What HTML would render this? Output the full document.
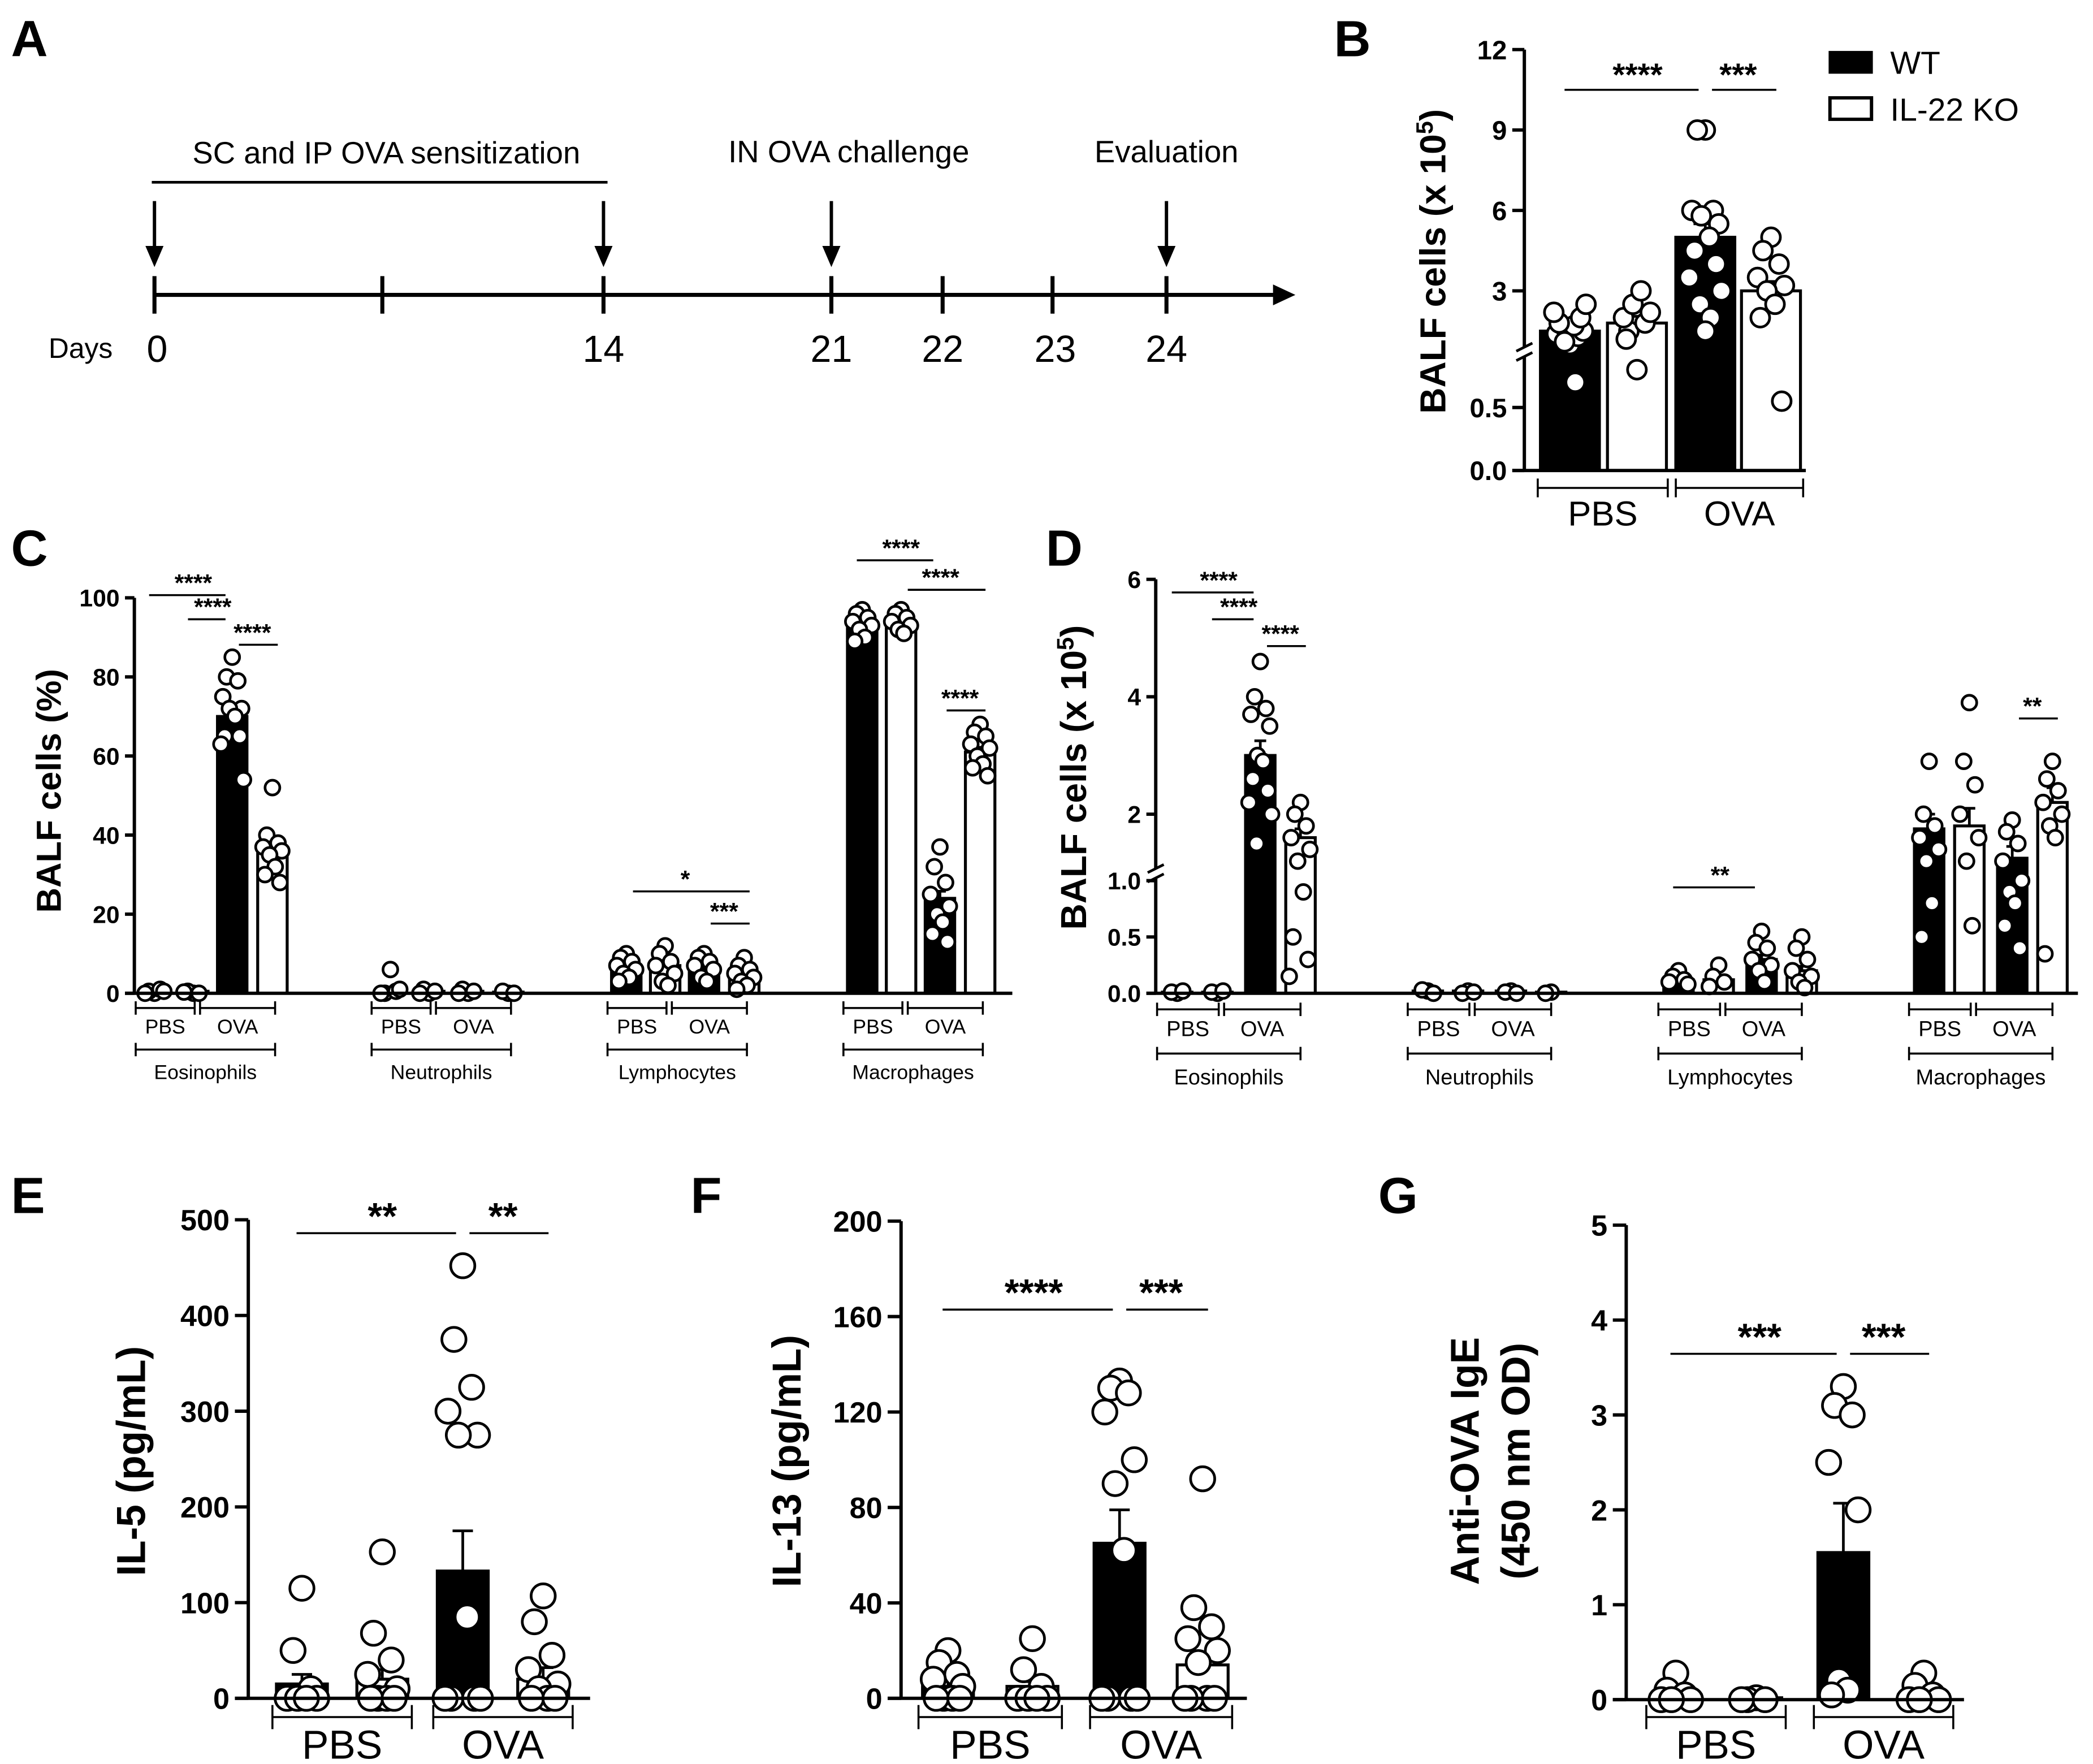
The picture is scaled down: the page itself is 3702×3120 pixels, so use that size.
<!DOCTYPE html>
<html><head><meta charset="utf-8"><style>
html,body{margin:0;padding:0;background:#fff}
svg{display:block}
text{font-family:"Liberation Sans",Arial,sans-serif;fill:#000}
</style></head><body>
<svg id="fig" xmlns="http://www.w3.org/2000/svg" width="3702" height="3120" viewBox="0 0 1561 1316">
<g stroke="#000" fill="none">
<line x1="115" y1="220" x2="955" y2="220" stroke-width="3"/>
<polygon points="965,220 950,213 950,227" fill="#000"/>
<line x1="115" y1="206" x2="115" y2="234" stroke-width="3"/>
<line x1="285" y1="206" x2="285" y2="234" stroke-width="3"/>
<line x1="450" y1="206" x2="450" y2="234" stroke-width="3"/>
<line x1="620" y1="206" x2="620" y2="234" stroke-width="3"/>
<line x1="703" y1="206" x2="703" y2="234" stroke-width="3"/>
<line x1="785" y1="206" x2="785" y2="234" stroke-width="3"/>
<line x1="870" y1="206" x2="870" y2="234" stroke-width="3"/>
<line x1="113" y1="136" x2="453" y2="136" stroke-width="2"/>
<line x1="115" y1="150" x2="115" y2="188" stroke-width="2.5"/><polygon points="109,184 121,184 115,198" fill="#000"/>
<line x1="450" y1="150" x2="450" y2="188" stroke-width="2.5"/><polygon points="444,184 456,184 450,198" fill="#000"/>
<line x1="620" y1="150" x2="620" y2="188" stroke-width="2.5"/><polygon points="614,184 626,184 620,198" fill="#000"/>
<line x1="870" y1="150" x2="870" y2="188" stroke-width="2.5"/><polygon points="864,184 876,184 870,198" fill="#000"/>
</g>
<g font-size="22">
<text x="288" y="122" text-anchor="middle" font-size="23" fill="#333">SC and IP OVA sensitization</text>
<text x="633" y="121" text-anchor="middle" font-size="23" fill="#333">IN OVA challenge</text>
<text x="870" y="121" text-anchor="middle" font-size="23" fill="#333">Evaluation</text>
<text x="36" y="267" font-size="21" fill="#333">Days</text>
<text x="117" y="270" text-anchor="middle" font-size="28" fill="#333">0</text>
<text x="450" y="270" text-anchor="middle" font-size="28" fill="#333">14</text>
<text x="620" y="270" text-anchor="middle" font-size="28" fill="#333">21</text>
<text x="703" y="270" text-anchor="middle" font-size="28" fill="#333">22</text>
<text x="787" y="270" text-anchor="middle" font-size="28" fill="#333">23</text>
<text x="870" y="270" text-anchor="middle" font-size="28" fill="#333">24</text>
</g>
<g font-weight="bold" font-size="38">
<text x="8" y="42">A</text><text x="995" y="42">B</text><text x="8" y="422">C</text>
<text x="780" y="422">D</text><text x="8" y="905">E</text><text x="515" y="905">F</text><text x="1028" y="905">G</text>
</g>
<g>
<rect x="1364" y="38" width="33" height="17" fill="#000"/>
<text x="1410" y="55" font-size="24">WT</text>
<rect x="1365" y="73" width="31" height="16" fill="#fff" stroke="#000" stroke-width="2.5"/>
<text x="1410" y="90" font-size="24">IL-22 KO</text>
</g>
</svg>
<script>
const bCategories=["WT PBS","KO PBS","WT OVA","KO OVA"];
const bMeans=[1.5,1.8,5.0,3.0];
const bErrs=[0.15,0.25,0.5,0.35];
const bPoints=[[1.0,1.2,1.3,1.4,1.5,1.6,1.7,1.8,2.0,2.2,2.5,1.1,0.7],[0.8,1.5,1.8,2.0,2.2,2.5,3.0,1.2],[9,9,6,6,5.5,5.8,5,4.5,4,3.5,3,2.5,2,1.5],[5,4.5,4,3.5,3.2,3,2.5,2,0.55]];
const bTicks=[0,0.5,3,6,9,12];
const bTickLabels=["0.0","0.5","3","6","9","12"];
const cCellTypes=["Eosinophils","Neutrophils","Lymphocytes","Macrophages"];
const cMeans=[0.5,0.5,70,36, 0.5,0.5,0.5,0.3, 7,7,7,5, 93,93,24,61];
const cErrs=[0.2,0.2,2,1.5, 0.3,0.2,0.2,0.1, 0.5,0.6,0.5,0.6, 0.6,0.5,1.8,1.2];
const cPoints=[[0,0.5,1,0,0.5],[0,0.5,0,0.3],[85,80,79,75,72,72,70,65,65,63,54],[52,40,38,37,36,35,32,30,28],
[6,0,0.5,0,1],[0,1,0.5,0],[0,1,0.5,0],[0,0.5,0],
[10,9,8,7,6,5,4,3],[12,10,8,7,5,3,2],[10,9,8,7,6,4,3],[9,7,6,5,4,3,2,1],
[97,96,95,94,93,92,90,89],[97,96,95,94,93,92,91],[37,32,28,25,22,20,18,15,13],[68,66,65,63,62,60,58,57,55]];
const cTicks=[0,20,40,60,80,100];
const cTickLabels=["0","20","40","60","80","100"];
const dMeans=[0.01,0.01,3.0,1.6, 0.02,0.02,0.02,0.01, 0.12,0.12,0.3,0.2, 1.75,1.8,1.25,2.2];
const dErrs=[0.005,0.005,0.25,0.15, 0.005,0.005,0.005,0.005, 0.02,0.03,0.04,0.04, 0.25,0.3,0.2,0.25];
const dPoints=[[0,0.01,0.02],[0,0.01,0.02],[4.6,4.0,3.8,3.7,3.5,3.0,2.9,2.6,2.4,2.2,2.0,1.5],[2.2,2.0,1.8,1.6,1.4,1.2,0.9,0.5,0.3,0.15],
[0.02,0.03,0],[0.02,0,0.01],[0.02,0.01,0],[0.01,0],
[0.2,0.15,0.12,0.1,0.08],[0.25,0.15,0.1,0.06],[0.55,0.45,0.4,0.3,0.25,0.2,0.1],[0.5,0.4,0.3,0.2,0.15,0.1,0.05],
[2.9,2.0,1.8,1.6,1.4,1.2,0.8,0.5],[3.9,2.9,2.5,2.0,1.6,1.2,0.6],[1.9,1.7,1.5,1.2,1.0,0.9,0.8,0.6,0.4],[2.9,2.6,2.4,2.2,2.0,1.8,1.6,0.35]];
const dTicks=[0,0.5,1.0,2,4,6];
const dTickLabels=["0.0","0.5","1.0","2","4","6"];
const eMeans=[15,20,133,20];
const eErrs=[10,10,42,12];
const ePoints=[[115,50,10,0,0,0,0],[153,68,40,25,10,0,0,0,0],[452,375,325,300,275,275,85,0,0,0,0],[107,80,45,30,15,10,0,0,0]];
const eTicks=[0,100,200,300,400,500];
const fMeans=[5,5,65,14];
const fErrs=[2,2,14,5];
const fPoints=[[20,15,10,8,5,0,0,0,0],[25,12,5,0,0,0,0],[133,130,128,120,100,90,62,0,0,0,0],[92,38,30,25,20,15,0,0,0,0]];
const fTicks=[0,40,80,120,160,200];
const gMeans=[0.05,0.02,1.55,0.05];
const gErrs=[0.04,0.01,0.52,0.03];
const gPoints=[[0.28,0.1,0.05,0,0,0],[0.02,0,0,0],[3.3,3.1,3.0,2.5,2.0,0.2,0.1,0.05],[0.28,0.15,0.05,0,0,0]];
const gTicks=[0,1,2,3,4,5];

const NS="http://www.w3.org/2000/svg";
const fig=document.getElementById('fig');
function mk(tag,attrs,parent,txt){const e=document.createElementNS(NS,tag);for(const k in attrs)e.setAttribute(k,attrs[k]);if(txt!==undefined)e.textContent=txt;(parent||fig).appendChild(e);return e;}

const yB=v=>v<=0.9?351-94*v:277-20*v;
const yC=v=>741-2.95*v;
const yD=v=>v<=1.0?741-84*v:695-43.8*v;
const yE=v=>1267-0.714*v;
const yF=v=>1267-1.78*v;
const yG=v=>1268-70.8*v;

const jit=[0,-6,6,-10,10,-3,3,-8,8,-12,12,-4,4,0,-7];
function drawBars(g,cx,means,errs,points,yS,bw,r,jw,name){
  means.forEach((m,i)=>{
    const x=cx(i), wt=(i%2===0);
    const b=mk('rect',{x:x-bw/2,y:yS(m),width:bw,height:yS(0)-yS(m),fill:wt?'#000':'#fff',stroke:'#000','stroke-width':2.2},g);
    
    
    mk('line',{x1:x,y1:yS(m),x2:x,y2:yS(m+errs[i]),stroke:'#000','stroke-width':2},g);
    mk('line',{x1:x-bw/5,y1:yS(m+errs[i]),x2:x+bw/5,y2:yS(m+errs[i]),stroke:'#000','stroke-width':2},g);
    points[i].forEach((p,j)=>{
      const c=mk('circle',{cx:x+jit[j%jit.length]*jw,cy:yS(p),r:r,fill:'#fff',stroke:'#000','stroke-width':2},g);
      
      
    });
  });
}
function axis(g,ax,yS,ticks,labels,fs,tl,top,bottom,xEnd,breakAt){
  if(breakAt){
    mk('line',{x1:ax,y1:yS(top),x2:ax,y2:breakAt[0],stroke:'#000','stroke-width':2.5},g);
    mk('line',{x1:ax,y1:breakAt[1],x2:ax,y2:yS(bottom),stroke:'#000','stroke-width':2.5},g);
    mk('line',{x1:ax-6,y1:breakAt[0]+3,x2:ax+6,y2:breakAt[0]-3,stroke:'#000','stroke-width':2},g);
    mk('line',{x1:ax-6,y1:breakAt[1]+3,x2:ax+6,y2:breakAt[1]-3,stroke:'#000','stroke-width':2},g);
  } else mk('line',{x1:ax,y1:yS(top),x2:ax,y2:yS(bottom),stroke:'#000','stroke-width':2.5},g);
  mk('line',{x1:ax-tl,y1:yS(0),x2:xEnd,y2:yS(0),stroke:'#000','stroke-width':2.5},g);
  ticks.forEach((t,i)=>{
    mk('line',{x1:ax-tl,y1:yS(t),x2:ax,y2:yS(t),stroke:'#000','stroke-width':2.5},g);
    const tx=mk('text',{x:ax-tl-4,y:yS(t)+fs*0.36,'text-anchor':'end','font-size':fs,'font-weight':'bold'},g,labels[i]);
    
    
  });
}
function ytitle(g,x,y,txt,fs,sup){
  const t=mk('text',{x:0,y:0,transform:`translate(${x},${y}) rotate(-90)`,'text-anchor':'middle','font-size':fs,'font-weight':'bold'},g,txt);
  if(sup){mk('tspan',{dy:-fs*0.35,'font-size':fs*0.65},t,sup);mk('tspan',{dy:fs*0.35},t,')');}
  
  
}
function bracket(g,x1,x2,y,label,fs,ly,tick){
  mk('line',{x1:x1,y1:y,x2:x2,y2:y,stroke:'#000','stroke-width':1.5},g);
  mk('line',{x1:x1,y1:y-tick,x2:x1,y2:y+tick,stroke:'#000','stroke-width':1.5},g);
  mk('line',{x1:x2,y1:y-tick,x2:x2,y2:y+tick,stroke:'#000','stroke-width':1.5},g);
  const t=mk('text',{x:(x1+x2)/2,y:ly,'text-anchor':'middle','font-size':fs},g,label);
  
  
}
function sig(g,cx,i1,i2,y,label,fs){
  mk('line',{x1:cx(i1)-4,y1:y,x2:cx(i2)-5,y2:y,stroke:'#000','stroke-width':1.5},g);
  const t=mk('text',{x:(cx(i1)+cx(i2))/2,y:y-3,'text-anchor':'middle','font-size':fs,'font-weight':'bold'},g,label);
  
  
}
function sig2(g,cx,i1,i2,y,label,fs){
  mk('line',{x1:cx(i1)+5,y1:y,x2:cx(i2)+4,y2:y,stroke:'#000','stroke-width':1.5},g);
  const t=mk('text',{x:(cx(i1)+cx(i2))/2,y:y-3,'text-anchor':'middle','font-size':fs,'font-weight':'bold'},g,label);
  
  
}

{const g=mk('g',{});  
 const cx=i=>[1171,1221,1272,1321][i];
 drawBars(g,cx,bMeans,bErrs,bPoints,yB,44,7,1,'panel-b');
 axis(g,1137,yB,bTicks,bTickLabels,20,9,12,0,1347,[259,266]);
 ytitle(g,1078,195,'BALF cells (x 10',27,'5');
 sig(g,cx,0,2,67,'****',24); sig2(g,cx,2,3,67,'***',24);
 bracket(g,1147,1244,364,'PBS',26,392,7); bracket(g,1250,1345,364,'OVA',26,392,7);
}
{const g=mk('g',{});  
 const cx=i=>115+Math.floor(i/4)*176+[0,29,58,88][i%4];
 drawBars(g,cx,cMeans,cErrs,cPoints,yC,22,5.5,0.7,'panel-c');
 axis(g,100,yC,cTicks,cTickLabels,18,7,100,0,755,null);
 ytitle(g,45,590,'BALF cells (%)',26);
 sig(g,cx,0,2,444,'****',18); sig(g,cx,1,2,462,'****',18); sig2(g,cx,2,3,481,'****',18);
 sig2(g,cx,8,11,665,'*',18); sig2(g,cx,10,11,689,'***',18);
 sig(g,cx,12,14,418,'****',18); sig2(g,cx,13,15,440,'****',18); sig2(g,cx,14,15,530,'****',18);
 cCellTypes.forEach((ct,k)=>{const x0=cx(4*k)-14;
  bracket(g,x0,x0+44,752,'PBS',15,771,5); bracket(g,x0+48,x0+104,752,'OVA',15,771,5);
  bracket(g,x0,x0+104,783,ct,15,805,5);});
}
{const g=mk('g',{});  
 const cx=i=>878+Math.floor(i/4)*187+[0,30,62,92][i%4];
 drawBars(g,cx,dMeans,dErrs,dPoints,yD,22,5.5,0.7,'panel-d');
 axis(g,862,yD,dTicks,dTickLabels,18,7,6,0,1550,[648,655]);
 ytitle(g,810,580,'BALF cells (x 10',27,'5');
 sig(g,cx,0,2,442,'****',18); sig(g,cx,1,2,462,'****',18); sig2(g,cx,2,3,482,'****',18);
 sig(g,cx,8,10,662,'**',18); sig2(g,cx,14,15,536,'**',18);
 cCellTypes.forEach((ct,k)=>{const x0=cx(4*k)-15;
  bracket(g,x0,x0+46,753,'PBS',16,773,5); bracket(g,x0+50,x0+107,753,'OVA',16,773,5);
  bracket(g,x0,x0+107,786,ct,16,809,5);});
}
function bottomPanel(name,ax,cx,means,errs,pts,yS,ticks,title,title2,tx,sigs,xEnd){
 const g=mk('g',{});  
 drawBars(g,cx,means,errs,pts,yS,38,9,1.1,name);
 axis(g,ax,yS,ticks,ticks.map(String),22,10,ticks[ticks.length-1],0,xEnd,null);
 if(title2){ytitle(g,tx-22,1090,title,30);ytitle(g,tx+16,1090,title2,30);} else ytitle(g,tx,1090,title,30);
 sig(g,cx,sigs[0][0],sigs[0][1],sigs[0][2],sigs[0][3],28);
 sig2(g,cx,sigs[1][0],sigs[1][1],sigs[1][2],sigs[1][3],28);
 bracket(g,cx(0)-22,cx(1)+22,1281,'PBS',30,1312,9); bracket(g,cx(2)-22,cx(3)+22,1281,'OVA',30,1312,9);
}
bottomPanel('panel-e',185,i=>[225,285,345,405][i],eMeans,eErrs,ePoints,yE,eTicks,'IL-5 (pg/mL)',null,108,[[0,2,920,'**'],[2,3,920,'**']],440);
bottomPanel('panel-f',672,i=>[707,770,835,897][i],fMeans,fErrs,fPoints,yF,fTicks,'IL-13 (pg/mL)',null,597,[[0,2,977,'****'],[2,3,977,'***']],930);
bottomPanel('panel-g',1213,i=>[1250,1310,1375,1435][i],gMeans,gErrs,gPoints,yG,gTicks,'Anti-OVA IgE','(450 nm OD)',1125,[[0,2,1010,'***'],[2,3,1010,'***']],1465);
</script>
</body></html>
